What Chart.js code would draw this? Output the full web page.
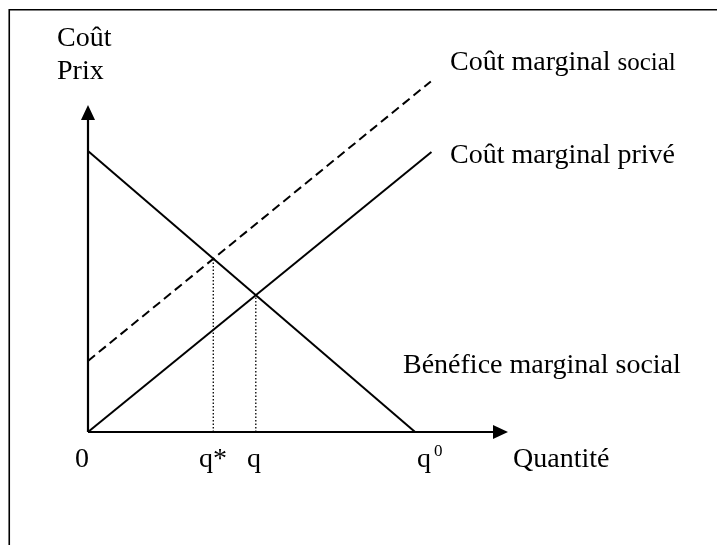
<!DOCTYPE html>
<html lang="fr">
<head>
<meta charset="utf-8">
<title>Externalité négative</title>
<script src="https://cdn.jsdelivr.net/npm/chart.js@4.4.0/dist/chart.umd.min.js"></script>
<style>
    html, body { margin: 0; padding: 0; background: #fff; }
    canvas { display: block; }
</style>
</head>
<body>
<canvas id="chart" width="717" height="545"></canvas>
<script>
// Valeurs (unités arbitraires, q0 = 10)
const demandX = [0, 10];
const demandY = [10, 0];
const privateX = [0, 10.5];
const privateY = [0, 9.97];
const socialX = [0, 10.48];
const socialY = [2.53, 12.48];
const optimumX = [3.83, 3.83];
const optimumY = [0, 6.17];
const marketX = [5.13, 5.13];
const marketY = [0, 4.87];

const xMax = 12.84;   // pointe de la flèche des quantités
const yMax = 11.64;   // pointe de la flèche des prix

const FONT = '"Liberation Serif", "Times New Roman", serif';

const toPoints = (xs, ys) => xs.map((x, i) => ({ x, y: ys[i] }));

const lineSet = (label, xs, ys, extra) => Object.assign({
    label,
    data: toPoints(xs, ys),
    showLine: true,
    borderColor: '#000',
    borderWidth: 2,
    pointRadius: 0,
    fill: false,
    clip: false
}, extra);

// axes, flèches, cadre et libellés
const decorations = {
    id: 'decorations',
    beforeDatasetsDraw(chart) {
        const { ctx, scales: { x, y } } = chart;
        const x0 = x.getPixelForValue(0);
        const y0 = y.getPixelForValue(0);
        const xEnd = x.getPixelForValue(xMax);
        const yEnd = y.getPixelForValue(yMax);

        ctx.save();
        ctx.strokeStyle = '#000';
        ctx.fillStyle = '#000';

        // cadre (haut et gauche)
        ctx.lineWidth = 1.6;
        ctx.beginPath();
        ctx.moveTo(9.25, 545);
        ctx.lineTo(9.25, 9.75);
        ctx.lineTo(717, 9.75);
        ctx.stroke();

        // axes
        ctx.lineWidth = 2.2;
        ctx.beginPath();
        ctx.moveTo(x0, y0);
        ctx.lineTo(xEnd - 10, y0);
        ctx.moveTo(x0, y0);
        ctx.lineTo(x0, yEnd + 10);
        ctx.stroke();

        ctx.beginPath();
        ctx.moveTo(xEnd, y0);
        ctx.lineTo(xEnd - 15, y0 - 7);
        ctx.lineTo(xEnd - 15, y0 + 7);
        ctx.closePath();
        ctx.fill();

        ctx.beginPath();
        ctx.moveTo(x0, yEnd);
        ctx.lineTo(x0 - 7, yEnd + 15);
        ctx.lineTo(x0 + 7, yEnd + 15);
        ctx.closePath();
        ctx.fill();

        ctx.restore();
    },
    afterDraw(chart) {
        const { ctx, scales: { y } } = chart;
        const y0 = y.getPixelForValue(0);
        const base = y0 + 35;

        ctx.save();
        ctx.fillStyle = '#000';
        ctx.textBaseline = 'alphabetic';
        ctx.textAlign = 'left';
        ctx.font = '28px ' + FONT;

        ctx.fillText('Coût', 57, 46);
        ctx.fillText('Prix', 57, 79);

        ctx.fillText('0', 75, base);
        ctx.fillText('q*', 199, base);
        ctx.fillText('q', 247, base);
        ctx.fillText('q', 417, base);
        ctx.fillText('Quantité', 513, base);

        ctx.fillText('Coût marginal privé', 450, 163);
        ctx.fillText('Bénéfice marginal social', 403, 373);

        const head = 'Coût marginal ';
        ctx.fillText(head, 450, 70);
        const w = ctx.measureText(head).width;
        ctx.font = '25px ' + FONT;
        ctx.fillText('social', 450 + w, 70);

        ctx.font = '17px ' + FONT;
        ctx.fillText('0', 434, base - 11);

        ctx.restore();
    }
};

new Chart(document.getElementById('chart'), {
    type: 'scatter',
    data: {
        datasets: [
            lineSet('Bénéfice marginal social', demandX, demandY),
            lineSet('Coût marginal privé', privateX, privateY),
            lineSet('Coût marginal social', socialX, socialY, { borderDash: [9, 5] }),
            lineSet('q*', optimumX, optimumY, { borderWidth: 1.3, borderDash: [1.5, 2] }),
            lineSet('q', marketX, marketY, { borderWidth: 1.3, borderDash: [1.5, 2] })
        ]
    },
    options: {
        responsive: false,
        animation: false,
        events: [],
        layout: {
            padding: { left: 88, top: 105, right: 209, bottom: 113 }
        },
        plugins: {
            legend: { display: false },
            tooltip: { enabled: false }
        },
        scales: {
            x: { type: 'linear', min: 0, max: xMax, display: false },
            y: { type: 'linear', min: 0, max: yMax, display: false }
        }
    },
    plugins: [decorations]
});
</script>
</body>
</html>
